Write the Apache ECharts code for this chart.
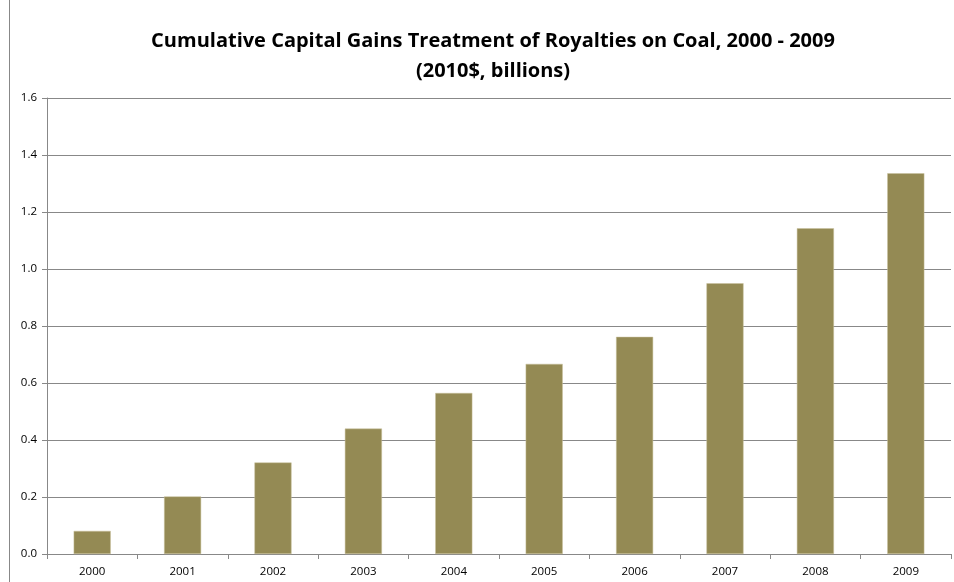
<!DOCTYPE html>
<html><head><meta charset="utf-8">
<script src="https://cdn.jsdelivr.net/npm/echarts@6/dist/echarts.min.js"></script>
<style>html,body{margin:0;padding:0;background:#fff}#c{width:954px;height:582px}</style>
</head><body><div id="c"></div>
<script>
const years = ['2000','2001','2002','2003','2004','2005','2006','2007','2008','2009'];
const values = [0.081, 0.202, 0.321, 0.440, 0.565, 0.667, 0.762, 0.950, 1.143, 1.336];
const yTicks = [0, 0.2, 0.4, 0.6, 0.8, 1.0, 1.2, 1.4, 1.6];

const chart = echarts.init(document.getElementById('c'), null, {renderer:'canvas'});
chart.setOption({
  animation:false,
  backgroundColor:'#fff',
  title:{
    text:'Cumulative Capital Gains Treatment of Royalties on Coal, 2000 - 2009\n(2010$, billions)',
    left:488, top:21, textAlign:'center',
    textStyle:{fontFamily:'Open Sans', fontWeight:'bold', fontSize:20, color:'#000', lineHeight:30}
  },
  grid:{left:47, right:3, top:98, bottom:28, containLabel:false},
  xAxis:{
    type:'category', data:years,
    axisLine:{lineStyle:{color:'#888', width:1}},
    axisTick:{show:true, length:5, lineStyle:{color:'#888'}},
    axisLabel:{fontFamily:'Open Sans', fontSize:11.5, color:'#000', margin:12}
  },
  yAxis:{
    type:'value', min:0, max:1.6, interval:0.2,
    axisLine:{show:true, lineStyle:{color:'#888'}},
    axisTick:{show:true, length:5, lineStyle:{color:'#888'}},
    splitLine:{lineStyle:{color:'#888', width:1}},
    axisLabel:{fontFamily:'Open Sans', fontSize:11.5, color:'#000', margin:10,
      formatter:v=>v.toFixed(1)}
  },
  series:[{
    type:'bar', data:values, barWidth:'41%',
    itemStyle:{color:'#948A54', borderColor:'#C8C19C', borderWidth:0.5}
  }]
});
</script>
<div style="position:absolute;left:9px;top:0;width:1px;height:582px;background:#888"></div>
</body></html>
